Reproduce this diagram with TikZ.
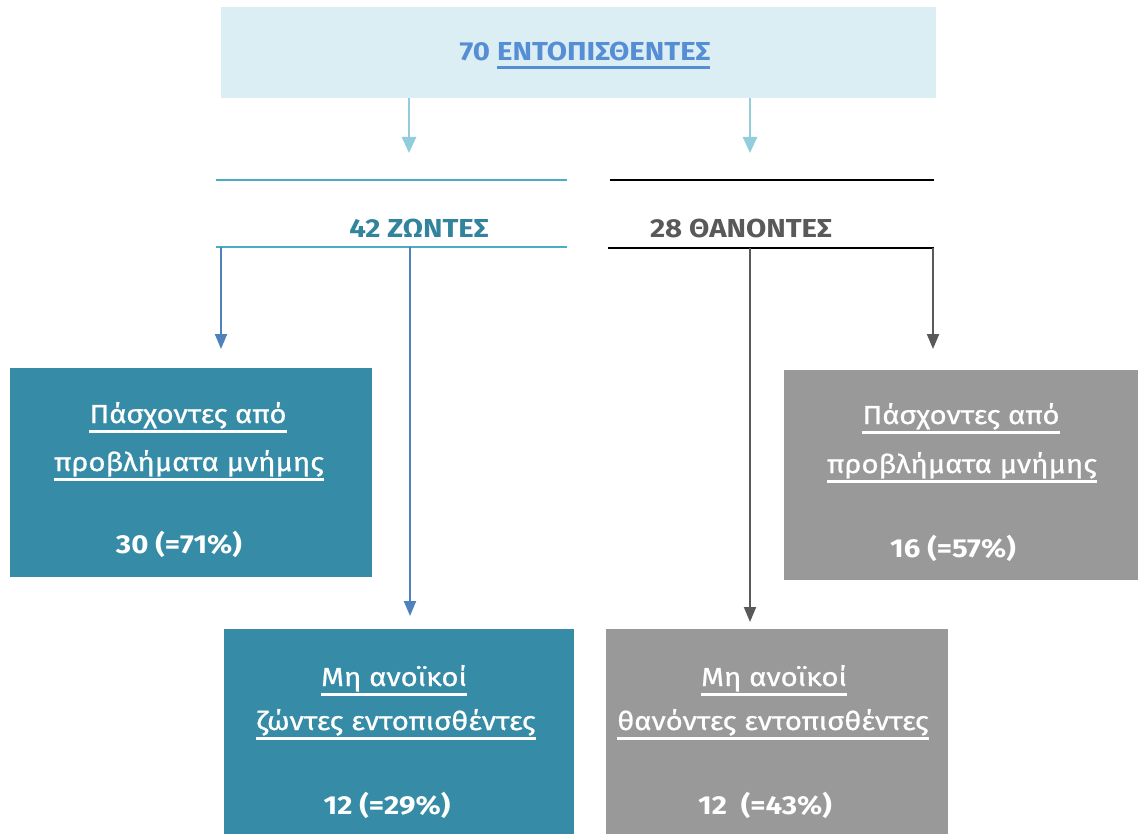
\documentclass[tikz,border=0pt]{standalone}
\usepackage{fontspec}
\setmainfont{Fira Sans}[FakeStretch=1.13]
\usetikzlibrary{arrows.meta}
\definecolor{topfill}{RGB}{219,238,243}
\definecolor{topblue}{RGB}{85,142,213}
\definecolor{arrlight}{RGB}{146,205,220}
\definecolor{tealline}{RGB}{75,172,198}
\definecolor{tealtext}{RGB}{49,132,155}
\definecolor{tealfill}{RGB}{54,140,166}
\definecolor{bluearr}{RGB}{79,129,189}
\definecolor{grayfill}{RGB}{153,153,153}
\definecolor{darkgray}{RGB}{89,89,89}
\newdimen\ulgap
\newcommand\ulx[1]{\setbox0\hbox{#1}\ulgap=\dp0\advance\ulgap by 1.5pt\ifdim\ulgap<5.5pt\ulgap=5.5pt\fi\leavevmode\rlap{\rule[\dimexpr-\ulgap-2.5pt\relax]{\wd0}{2.5pt}}\box0}
\begin{document}
\begin{tikzpicture}[x=1pt,y=-1pt,
  boxshape/.style={inner sep=0pt, outer sep=0pt, draw=none},
  boxtext/.style={anchor=base, inner sep=0pt, text=white, font=\fontsize{26}{31}\selectfont\addfontfeatures{FakeBold=0.8}},
  numtext/.style={anchor=base, inner sep=0pt, text=white, font=\fontsize{26}{31}\selectfont\bfseries},
  headtext/.style={anchor=base, inner sep=0pt, font=\fontsize{26}{31}\selectfont\bfseries},
  arrlt/.style={draw=arrlight, line width=2.5pt, -{Triangle[width=14pt,length=16pt]}},
  arrbl/.style={draw=bluearr, line width=2pt, -{Triangle[width=12pt,length=15pt]}},
  arrgr/.style={draw=darkgray, line width=2pt, -{Triangle[width=12pt,length=15pt]}},
  barL/.style={draw=tealline, line width=2pt},
  barR/.style={draw=black, line width=2pt}]
\useasboundingbox (0,0) rectangle (1139,834);
% top box
\node[boxshape, fill=topfill, minimum width=715pt, minimum height=91pt] (top) at (578.5,52.5) {};
\node[headtext, text=topblue] (toptext) at (585,61) {70 \ulx{ΕΝΤΟΠΙΣΘΕΝΤΕΣ}};
% bars
\coordinate (LbarA1) at (216,180); \coordinate (LbarA2) at (567,180);
\coordinate (LbarB1) at (216,246.5); \coordinate (LbarB2) at (567,246.5);
\coordinate (RbarA1) at (610,180); \coordinate (RbarA2) at (934,180);
\coordinate (RbarB1) at (608,247.5); \coordinate (RbarB2) at (934,247.5);
\draw[barL] (LbarA1) -- (LbarA2);
\draw[barL] (LbarB1) -- (LbarB2);
\draw[barR] (RbarA1) -- (RbarA2);
\draw[barR] (RbarB1) -- (RbarB2);
\node[headtext, text=tealtext] (alive) at (419,237) {42 ΖΩΝΤΕΣ};
\node[headtext, text=darkgray] (dead) at (741,237) {28 ΘΑΝΟΝΤΕΣ};
% arrows from top
\coordinate (tipA) at (409,153); \coordinate (tipB) at (750,153);
\draw[arrlt] (top.south -| tipA) -- (tipA);
\draw[arrlt] (top.south -| tipB) -- (tipB);
% boxes
\node[boxshape, fill=tealfill, minimum width=362pt, minimum height=209pt] (memL) at (191,472.5) {};
\node[boxshape, fill=grayfill, minimum width=354pt, minimum height=210pt] (memR) at (961,475) {};
\node[boxshape, fill=tealfill, minimum width=350pt, minimum height=205pt] (nonL) at (399,731.5) {};
\node[boxshape, fill=grayfill, minimum width=342pt, minimum height=205pt] (nonR) at (777,731.5) {};
% arrows down
\coordinate (tip1) at (221,349); \coordinate (tip2) at (410,616);
\coordinate (tip3) at (750,622); \coordinate (tip4) at (933,349);
\coordinate (src1) at (221,246.5); \coordinate (src2) at (410,246.5);
\coordinate (src3) at (750,247.5); \coordinate (src4) at (933,247.5);
\draw[arrbl] (src1) -- (tip1);
\draw[arrbl] (src2) -- (tip2);
\draw[arrgr] (src3) -- (tip3);
\draw[arrgr] (src4) -- (tip4);
% texts left mem box
\node[boxtext] (mL1) at (188,423) {\ulx{Πάσχοντες από}};
\node[boxtext] (mL2) at (189,471) {\ulx{προβλήματα μνήμης}};
\node[numtext] (mL3) at (179,553) {30 (=71\%)};
% texts right mem box
\node[boxtext] (mR1) at (961,424) {\ulx{Πάσχοντες από}};
\node[boxtext] (mR2) at (962,473) {\ulx{προβλήματα μνήμης}};
\node[numtext] (mR3) at (953,557) {16 (=57\%)};
% texts bottom-left
\node[boxtext] (nL1) at (394,686) {\ulx{Μη ανοϊκοί}};
\node[boxtext] (nL2) at (396,730) {\ulx{ζώντες εντοπισθέντες}};
\node[numtext] (nL3) at (387,814) {12 (=29\%)};
% texts bottom-right
\node[boxtext] (nR1) at (774,686) {\ulx{Μη ανοϊκοί}};
\node[boxtext] (nR2) at (773,730) {\ulx{θανόντες εντοπισθέντες}};
\node[numtext] (nR3) at (765,814) {12\ \ (=43\%)};
\end{tikzpicture}
\end{document}
